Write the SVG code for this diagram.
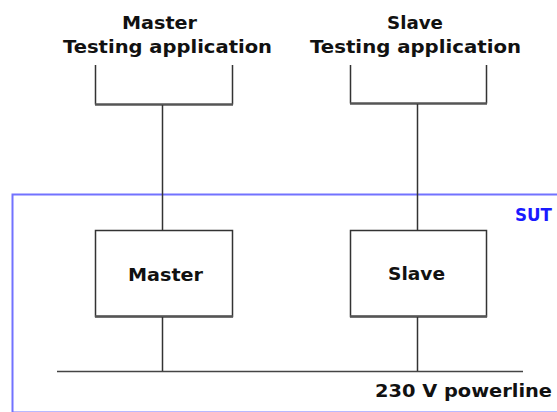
<svg xmlns="http://www.w3.org/2000/svg" width="557" height="412" viewBox="0 0 557 412">
<style>
.t{font-family:"DejaVu Sans","Liberation Sans",Arial,sans-serif;font-weight:bold;font-size:17.5px;fill:#111}
.box{fill:#fff;stroke:#333;stroke-width:1.5}
.ln{stroke:#333;stroke-width:1.5;fill:none}
.bot{stroke:#555;stroke-width:2.5;fill:none}
</style>
<rect width="557" height="412" fill="#fff"/>
<g id="sut">
<rect x="12.5" y="194.5" width="600" height="218" fill="none" stroke="#7272ff" stroke-width="2"/>
<text class="t" x="515" y="221" textLength="37" lengthAdjust="spacingAndGlyphs" style="fill:#1a1aff">SUT</text>
</g>
<g id="master-app">
<text class="t" x="122" y="29" textLength="75" lengthAdjust="spacingAndGlyphs">Master</text>
<text class="t" x="63" y="53" textLength="209" lengthAdjust="spacingAndGlyphs">Testing application</text>
</g>
<g id="slave-app">
<text class="t" x="387" y="29" textLength="56" lengthAdjust="spacingAndGlyphs">Slave</text>
<text class="t" x="310" y="53" textLength="211" lengthAdjust="spacingAndGlyphs">Testing application</text>
</g>
<g id="master">
<rect class="box" x="95.5" y="230.5" width="137" height="86"/>
<line class="bot" x1="95" y1="316.5" x2="233" y2="316.5"/>
<text class="t" x="128" y="281" textLength="75" lengthAdjust="spacingAndGlyphs">Master</text>
</g>
<g id="slave">
<rect class="box" x="350.5" y="230.5" width="136" height="86"/>
<line class="bot" x1="350" y1="316.5" x2="487" y2="316.5"/>
<text class="t" x="388" y="280" textLength="57" lengthAdjust="spacingAndGlyphs">Slave</text>
</g>
<g id="powerline">
<line class="ln" x1="57" y1="371.5" x2="523" y2="371.5" style="stroke:#444"/>
<text class="t" x="375" y="397" textLength="177" lengthAdjust="spacingAndGlyphs">230 V powerline</text>
</g>
<g id="connectors">
<path class="ln" d="M95.5,65 V104.5 M232.5,65 V104.5"/>
<line class="bot" x1="95" y1="104.5" x2="233" y2="104.5"/>
<path class="ln" d="M350.5,65 V103.5 M486.5,65 V103.5"/>
<line class="bot" x1="350" y1="103.5" x2="487" y2="103.5"/>
<line class="ln" x1="162.5" y1="105" x2="162.5" y2="230"/>
<line class="ln" x1="417.5" y1="104" x2="417.5" y2="230"/>
<line class="ln" x1="162.5" y1="317" x2="162.5" y2="371"/>
<line class="ln" x1="417.5" y1="317" x2="417.5" y2="371"/>
</g>
</svg>
